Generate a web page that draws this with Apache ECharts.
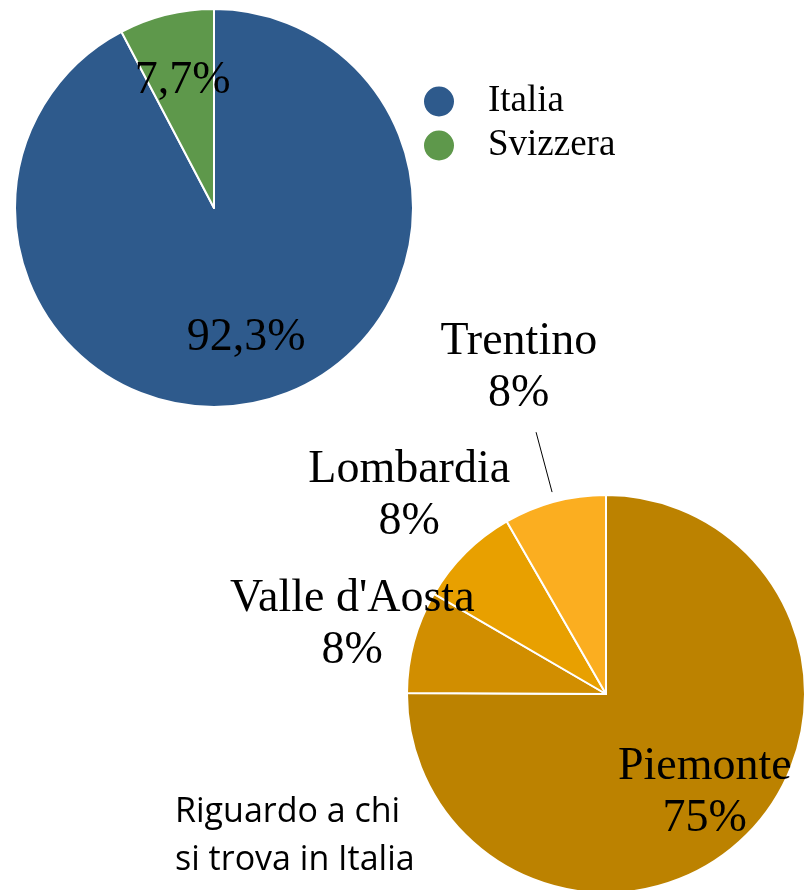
<!DOCTYPE html>
<html>
<head>
<meta charset="utf-8">
<script src="https://cdn.jsdelivr.net/npm/echarts@6/dist/echarts.min.js"></script>
<style>
  html, body { margin: 0; padding: 0; background: #fff; }
  #chart { width: 805px; height: 890px; }
</style>
</head>
<body>
<div id="chart"></div>
<script>
// data
var paesi = ['Italia', 'Svizzera'];
var paesiValori = [92.3, 7.7];
var paesiEtichette = ['92,3%', '7,7%'];

var regioni = ['Piemonte', "Valle d'Aosta", 'Lombardia', 'Trentino'];
var regioniValori = [75, 8.3, 8.3, 8.3];

var paesiColori = ['#2E5A8C', '#5E984B'];
var regioniColori = ['#BC8200', '#D18E00', '#E8A000', '#FBAE20'];

var serif = 'Liberation Serif';

var chartDom = document.getElementById('chart');
var myChart = echarts.init(chartDom);

// angle of the middle of slice i, clockwise from the top (radians)
function midAngle(values, i) {
  var tot = 0, before = 0;
  values.forEach(function (v, k) { tot += v; if (k < i) before += v; });
  return (before + values[i] / 2) / tot * Math.PI * 2;
}

// put each label along the slice's middle line at its own distance from the centre
function radialLayout(cx, cy, values, dists, lines) {
  return function (params) {
    var i = params.dataIndex;
    var a = midAngle(values, i);
    var d = dists[i];
    var out = {
      x: cx + d * Math.sin(a),
      y: cy - d * Math.cos(a),
      align: 'center',
      verticalAlign: 'middle'
    };
    if (lines && lines[i]) {
      var p1 = [cx + lines[i][0] * Math.sin(a), cy - lines[i][0] * Math.cos(a)];
      var p2 = [cx + lines[i][1] * Math.sin(a), cy - lines[i][1] * Math.cos(a)];
      out.labelLinePoints = [p1, p2, p2];
    }
    return out;
  };
}

var c1 = [214, 208];
var c2 = [606, 694];

var option = {
  animation: false,
  title: {
    text: 'Riguardo a chi\nsi trova in Italia',
    left: 175,
    top: 788,
    padding: 0,
    textStyle: {
      fontFamily: 'Open Sans',
      fontSize: 34,
      fontWeight: 'normal',
      lineHeight: 48,
      color: '#000'
    }
  },
  legend: {
    data: paesi,
    orient: 'vertical',
    left: 422,
    top: 83,
    icon: 'circle',
    itemWidth: 32,
    itemHeight: 32,
    itemGap: 7,
    padding: 0,
    textStyle: {
      fontFamily: serif,
      fontSize: 37,
      lineHeight: 32,
      padding: [0, 0, 0, 28],
      color: '#000'
    }
  },
  series: [
    {
      name: 'Paesi',
      type: 'pie',
      center: c1,
      radius: 199,
      startAngle: 90,
      clockwise: true,
      avoidLabelOverlap: false,
      itemStyle: { borderColor: '#fff', borderWidth: 2 },
      label: {
        show: true,
        position: 'inside',
        fontFamily: serif,
        fontSize: 46,
        color: '#000',
        formatter: function (p) { return paesiEtichette[p.dataIndex]; }
      },
      labelLayout: radialLayout(c1[0], c1[1], paesiValori, [134, 131]),
      emphasis: { disabled: true },
      data: paesi.map(function (n, i) {
        return { name: n, value: paesiValori[i], itemStyle: { color: paesiColori[i] } };
      })
    },
    {
      name: 'Regioni',
      type: 'pie',
      center: c2,
      radius: 199,
      startAngle: 90,
      clockwise: true,
      avoidLabelOverlap: false,
      itemStyle: { borderColor: '#fff', borderWidth: 2 },
      label: {
        show: true,
        position: 'outside',
        fontFamily: serif,
        fontSize: 46,
        lineHeight: 52,
        color: '#000',
        formatter: function (p) { return p.name + '\n' + Math.round(p.value) + '%'; }
      },
      labelLine: { show: false, lineStyle: { color: '#000', width: 1 } },
      labelLayout: radialLayout(c2[0], c2[1], regioniValori, [140, 263, 279, 338],
        [null, null, null, [209, 271]]),
      emphasis: { disabled: true },
      data: regioni.map(function (n, i) {
        var d = { name: n, value: regioniValori[i], itemStyle: { color: regioniColori[i] } };
        if (i === 3) d.labelLine = { show: true, length: 10, length2: 0, lineStyle: { color: '#000', width: 1 } };
        return d;
      })
    }
  ]
};

myChart.setOption(option);
</script>
</body>
</html>
